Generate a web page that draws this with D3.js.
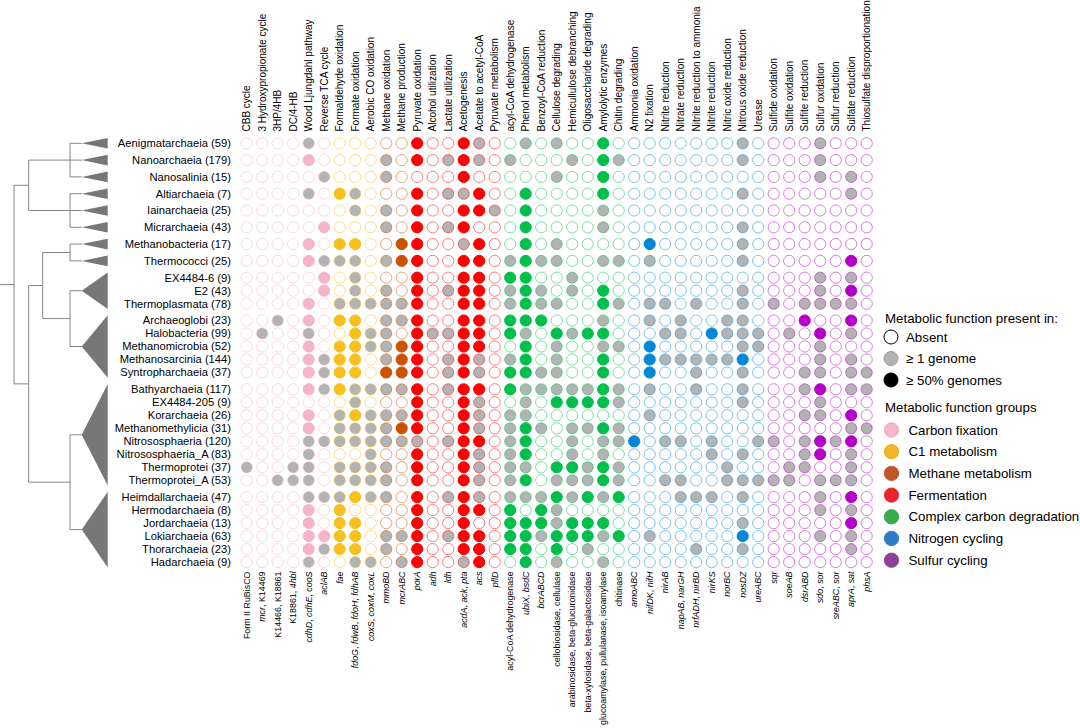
<!DOCTYPE html>
<html>
<head>
<meta charset="utf-8">
<script src="https://cdn.jsdelivr.net/npm/d3@7"></script>
<style>
body { margin: 0; background: #fff; }
text { font-family: "Liberation Sans", Arial, sans-serif; fill: #000; }
</style>
</head>
<body>
<svg id="chart" width="1080" height="728"></svg>
<script>
// taxa (rows) and how many genomes each holds
var taxa = ["Aenigmatarchaeia", "Nanoarchaeia", "Nanosalinia", "Altiarchaeia", "Iainarchaeia", "Micrarchaeia",
	"Methanobacteria", "Thermococci", "EX4484-6", "E2", "Thermoplasmata",
	"Archaeoglobi", "Halobacteria", "Methanomicrobia", "Methanosarcinia", "Syntropharchaeia",
	"Bathyarchaeia", "EX4484-205", "Korarchaeia", "Methanomethylicia", "Nitrososphaeria", "Nitrososphaeria_A", "Thermoprotei", "Thermoprotei_A",
	"Heimdallarchaeia", "Hermodarchaeia", "Jordarchaeia", "Lokiarchaeia", "Thorarchaeia", "Hadarchaeia"];
var genomes = [59, 179, 15, 7, 25, 43, 17, 25, 9, 43, 78, 23, 99, 52, 144, 37, 117, 9, 26, 31, 120, 83, 37, 53, 47, 8, 13, 63, 23, 9];
// collapsed clade (tree leaf) of every row
var cladeOf = [0, 1, 2, 3, 4, 5, 6, 7, 8, 8, 8, 9, 9, 9, 9, 9, 10, 10, 10, 10, 10, 10, 10, 10, 11, 11, 11, 11, 11, 11];

// columns
var functions = ["CBB cycle", "3 Hydroxypropionate cycle", "3HP/4HB", "DC/4-HB", "Wood Ljungdahl pathway", "Reverse TCA cycle",
	"Formaldehyde oxidation", "Formate oxidation", "Aerobic CO oxidation",
	"Methane oxidation", "Methane production",
	"Pyruvate oxidation", "Alcohol utilization", "Lactate utilization", "Acetogenesis", "Acetate to acetyl-CoA", "Pyruvate metabolism",
	"acyl-CoA dehydrogenase", "Phenol metabolism", "Benzoyl-CoA reduction", "Cellulose degrading", "Hemicullulose debranching", "Oligosaccharide degrading", "Amylolytic enzymes", "Chitin degrading",
	"Ammonia oxidation", "N2 fixation", "Nitrite reduction", "Nitrate reduction", "Nitrite reduction to ammonia", "Nitrite reduction", "Nitric oxide reduction", "Nitrous oxide reduction", "Urease",
	"Sulfide oxidation", "Sulfite oxidation", "Sulfite reduction", "Sulfur oxidation", "Sulfur reduction", "Sulfate reduction", "Thiosulfate disproportionation"];
// marker genes, *...* = italic
var genes = ["Form II RuBisCO", "*mcr*, K14469", "K14466, K18861", "K18861, *4hbl*", "*cdhD*, *cdhE*, *cooS*", "*aclAB*",
	"*fae*", "*fdoG*, *fdwB*, *fdoH*, *fdhAB*", "*coxS*, *coxM*, *coxL*",
	"*mmoBD*", "*mcrABC*",
	"*porA*", "*adh*", "*ldh*", "*acdA*, *ack*, *pta*", "*acs*", "*pflD*",
	"acyl-CoA dehydrogenase", "*ubiX*, *bsdC*", "*bcrABCD*", "cellobiosidase, cellulase", "arabinosidase, beta-glucuronidase", "beta-xylosidase, beta-galactosidase", "glucoamylase, pullulanase, isoamylase", "chitinase",
	"*amoABC*", "*nifDK*, *nifH*", "*nirAB*", "*napAB*, *narGH*", "*nrfADH*, *nirBD*", "*nirKS*", "*norBC*", "*nosDZ*", "*ureABC*",
	"*sqr*", "*soeAB*", "*dsrABD*", "*sdo*, *sor*", "*sreABC*, *sor*", "*aprA*, *sat*", "*phsA*"];

var groupNames = ["Carbon fixation", "C1 metabolism", "Methane metabolism", "Fermentation", "Complex carbon degradation", "Nitrogen cycling", "Sulfur cycling"];
var groupSizes = [6, 3, 2, 6, 8, 9, 7];
var groupColors = ["#f5b4c9", "#f8c01c", "#cc5200", "#ff0000", "#00bf4b", "#0088d6", "#b400c8"];
var legendColors = ["#f4b6c8", "#f1b52a", "#c4552b", "#e8262b", "#3aab4a", "#2a7fc4", "#8f3f98"];

var presenceLabels = ["Absent", "\u2265 1 genome", "\u2265 50% genomes"];
// 0 absent, 1 in >= 1 genome, 2 in >= 50% genomes; blocks follow groupSizes
var presence = [
	"000010 000 00 200210 01010020 000000010 0001000",
	"000020 000 10 201210 10001021 000000010 0001000",
	"000001 000 10 000200 00010020 000000000 0001010",
	"000010 210 00 201120 02000020 000000010 0000010",
	"000000 010 10 200221 02000010 000000000 0000000",
	"000002 000 10 201200 02000010 000000010 0000000",
	"000020 220 02 200120 02010000 020000010 0000000",
	"000021 110 12 200220 12110011 010000010 0000020",
	"000002 010 00 200220 22001000 000000000 0001010",
	"000002 010 10 201220 12101020 000000010 0001020",
	"000020 111 11 200220 12110021 011010010 1011110",
	"001020 220 11 200220 22200010 010100110 0020020",
	"010010 021 10 211220 21021220 001102111 0102010",
	"000020 221 12 200220 02010011 020000011 0001000",
	"000021 220 12 201210 12010020 021111120 0001010",
	"000021 220 22 201210 22110020 020010010 0011011",
	"000021 211 11 201220 21111121 010010010 0012011",
	"000000 010 00 200210 01022221 000000010 0001000",
	"000020 121 11 200210 11000000 010000000 0011020",
	"000020 111 12 200210 12101121 000000000 0000011",
	"000011 111 11 101220 12001011 201101001 1012120",
	"000010 001 00 200210 12001010 000001010 0012010",
	"100110 111 10 200210 11022121 000000100 0110010",
	"001110 111 10 200210 12011121 001100111 1101110",
	"000011 121 10 201210 11121212 000111010 0001020",
	"000020 200 00 200220 20210000 000000000 0001010",
	"000020 220 00 200200 22212220 000000010 0000020",
	"000022 220 11 201220 22122212 010000020 0001010",
	"000021 220 10 200220 22020100 000010010 0000010",
	"000010 011 01 200120 02010010 000000000 0000000"
];

// tree over the collapsed clades (depth = branch length from root)
var treeNodes = [
	{ id: "root", parent: null, depth: 0 },
	{ id: "n1", parent: "root", depth: 0.21 },
	{ id: "n2", parent: "root", depth: 0.21 },
	{ id: "n1a", parent: "n1", depth: 0.8 },
	{ id: "n1b", parent: "n1", depth: 0.8 },
	{ id: "n2a", parent: "n2", depth: 0.41 },
	{ id: "n2aa", parent: "n2a", depth: 0.8 },
	{ id: "n2ab", parent: "n2a", depth: 0.8 },
	{ id: "n2b", parent: "n2", depth: 0.8 }
];
var cladeParents = ["n1a", "n1a", "n1a", "n1b", "n1b", "n1b", "n2aa", "n2aa", "n2ab", "n2ab", "n2b", "n2b"];
var leafDepth = 0.967;

var svg = d3.select("#chart");

var groupOf = [];
groupSizes.forEach(function (n, g) {
	for (var k = 0; k < n; k++) groupOf.push(g);
});

// rows: one slot per taxon plus a small gap between clades
var slot = taxa.map(function (t, i) { return i + cladeOf[i] * 0.292; });
var y = d3.scaleLinear().domain([0, d3.max(slot)]).range([143.3, 562.1]);
var x = d3.scalePoint().domain(d3.range(functions.length)).range([246.7, 866.7]);

var rowY = slot.map(function (s) { return y(s); });

// cells
var cells = [];
presence.forEach(function (row, r) {
	row.replace(/ /g, "").split("").forEach(function (v, c) {
		cells.push({ r: r, c: c, v: +v });
	});
});

svg.append("g")
	.selectAll("circle")
	.data(cells)
	.enter()
	.append("circle")
	.attr("cx", (d) => x(d.c))
	.attr("cy", (d) => rowY[d.r])
	.attr("r", 5.6)
	.attr("fill", (d) => d.v == 0 ? "#fff" : d.v == 1 ? "#b3b3b3" : groupColors[groupOf[d.c]])
	.attr("stroke", (d) => groupColors[groupOf[d.c]])
	.attr("stroke-opacity", (d) => d.v == 2 ? 1 : 0.5)
	.attr("stroke-width", 1);

// row labels
svg.append("g")
	.selectAll("text")
	.data(taxa)
	.enter()
	.append("text")
	.attr("x", 231)
	.attr("y", (d, i) => rowY[i])
	.attr("dy", "0.35em")
	.attr("text-anchor", "end")
	.style("font-size", "11.2px")
	.text((d, i) => d + " (" + genomes[i] + ")");

// column labels on top
svg.append("g")
	.selectAll("text")
	.data(functions)
	.enter()
	.append("text")
	.attr("transform", (d, i) => "translate(" + x(i) + ",131.5) rotate(-90)")
	.attr("dy", "0.35em")
	.style("font-size", "10px")
	.text((d) => d);

// gene labels at the bottom
var geneText = svg.append("g")
	.selectAll("text")
	.data(genes)
	.enter()
	.append("text")
	.attr("transform", (d, i) => "translate(" + x(i) + ",571.5) rotate(-90)")
	.attr("dy", "0.35em")
	.attr("text-anchor", "end")
	.style("font-size", "8.9px");

geneText.each(function (d) {
	var t = d3.select(this);
	d.split("*").forEach(function (part, k) {
		if (part == "") return;
		t.append("tspan")
			.style("font-style", k % 2 == 1 ? "italic" : "normal")
			.text(part);
	});
});

// tree
var allNodes = treeNodes.concat(cladeParents.map(function (p, k) {
	return { id: "c" + k, parent: p, depth: leafDepth, clade: k };
}));
var root = d3.stratify().id((d) => d.id).parentId((d) => d.parent)(allNodes);
var tx = d3.scaleLinear().domain([0, leafDepth]).range([14, 81.7]);

root.eachAfter(function (n) {
	if (n.data.clade !== undefined) {
		var ys = rowY.filter(function (v, i) { return cladeOf[i] == n.data.clade; });
		n.y0 = d3.min(ys);
		n.y1 = d3.max(ys);
		n.ym = (n.y0 + n.y1) / 2;
	} else {
		var cy = n.children.map((c) => c.ym);
		n.ym = (d3.min(cy) + d3.max(cy)) / 2;
	}
	n.xx = tx(n.data.depth);
});

var treeG = svg.append("g")
	.attr("stroke", "#858585")
	.attr("stroke-width", 1)
	.attr("fill", "none");

treeG.append("line")
	.attr("x1", 0).attr("x2", root.xx)
	.attr("y1", root.ym).attr("y2", root.ym);

root.descendants().forEach(function (n) {
	if (!n.children) return;
	var cy = n.children.map((c) => c.ym);
	treeG.append("line")
		.attr("x1", n.xx).attr("x2", n.xx)
		.attr("y1", d3.min(cy)).attr("y2", d3.max(cy));
	n.children.forEach(function (c) {
		treeG.append("line")
			.attr("x1", n.xx).attr("x2", c.xx)
			.attr("y1", c.ym).attr("y2", c.ym);
	});
});

svg.append("g")
	.selectAll("path")
	.data(root.leaves())
	.enter()
	.append("path")
	.attr("d", function (n) {
		var h = (n.y1 - n.y0) / 2 + 5.3;
		return "M" + n.xx + "," + n.ym + "L107.7," + (n.ym - h) + "L107.7," + (n.ym + h) + "Z";
	})
	.attr("fill", "#777");

// legend
var lg = svg.append("g").style("font-size", "13.3px");

lg.append("text").attr("x", 885).attr("y", 318).attr("dy", "0.35em").text("Metabolic function present in:");

var pres = lg.selectAll(".pres")
	.data(presenceLabels)
	.enter()
	.append("g")
	.attr("transform", (d, i) => "translate(891," + (337 + i * 21.5) + ")");
pres.append("circle")
	.attr("r", 7)
	.attr("fill", (d, i) => ["#fff", "#b3b3b3", "#000"][i])
	.attr("stroke", (d, i) => ["#000", "#9a9a9a", "#000"][i])
	.attr("stroke-width", 1);
pres.append("text").attr("x", 15).attr("dy", "0.35em").text((d) => d);

lg.append("text").attr("x", 885).attr("y", 407.5).attr("dy", "0.35em").text("Metabolic function groups");

var grp = lg.selectAll(".grp")
	.data(groupNames)
	.enter()
	.append("g")
	.attr("transform", (d, i) => "translate(891.5," + (430 + i * 21.7) + ")");
grp.append("circle")
	.attr("r", 7.2)
	.attr("fill", (d, i) => legendColors[i])
	.attr("stroke", (d, i) => d3.color(legendColors[i]).darker(0.3))
	.attr("stroke-width", 0.8);
grp.append("text").attr("x", 17).attr("dy", "0.35em").text((d) => d);
</script>
</body>
</html>
